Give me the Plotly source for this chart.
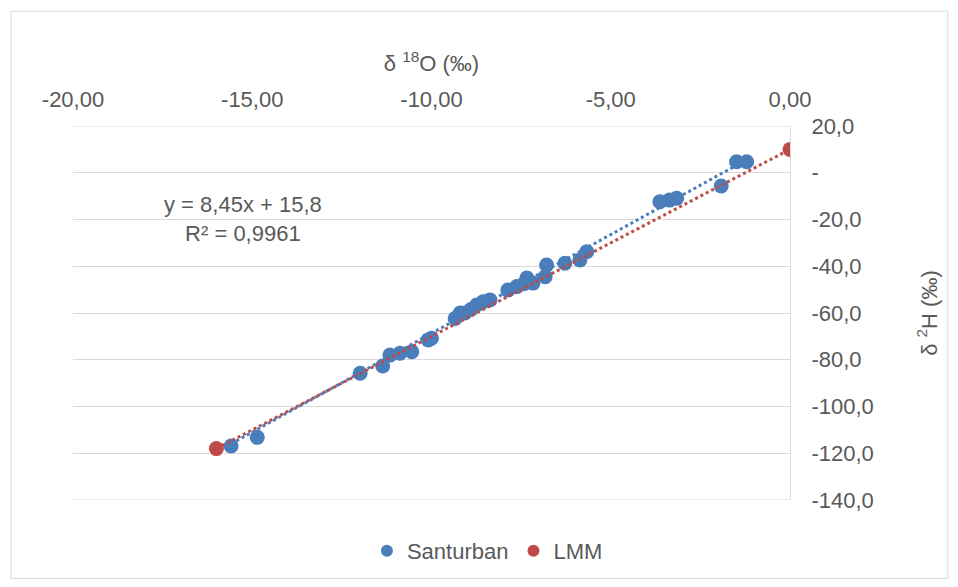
import plotly.graph_objects as go

# Santurban samples (δ18O, δ2H)
santurban_o18 = [-15.59, -14.86, -11.99, -11.36, -11.16, -10.88, -10.55, -10.09, -10.00,
                 -9.34, -9.20, -9.07, -8.90, -8.74, -8.56, -8.37,
                 -7.87, -7.62, -7.34, -7.42, -7.17, -6.79, -6.83,
                 -6.28, -5.86, -5.67, -3.63, -3.36, -3.16, -1.92, -1.49, -1.21]
santurban_h2 = [-116.9, -113.2, -85.8, -82.7, -78.0, -77.2, -76.6, -71.5, -70.8,
                -62.3, -60.0, -60.0, -58.5, -56.6, -55.2, -54.4,
                -50.2, -48.7, -45.0, -47.5, -47.2, -39.5, -44.5,
                -38.7, -37.3, -33.8, -12.4, -11.7, -10.9, -5.7, 4.7, 4.7]

# Local meteoric line points
lmm_o18 = [-16.0, 0.0]
lmm_h2 = [-118.0, 10.0]

# Trendline of Santurban (from chart equation)
slope = 8.45
intercept = 15.8
equation_text = "y = 8,45x + 15,8<br>R² = 0,9961"

x_tickvals = [-20, -15, -10, -5, 0]
x_ticktext = ["-20,00", "-15,00", "-10,00", "-5,00", "0,00"]
y_tickvals = [20, 0, -20, -40, -60, -80, -100, -120, -140]
y_ticktext = ["20,0", "-", "-20,0", "-40,0", "-60,0", "-80,0", "-100,0", "-120,0", "-140,0"]

BLUE = "#4A7EBB"
RED = "#BE4B48"
TXT = "#595959"
GRID = "#D9D9D9"
FS = 22

fig = go.Figure()
fig.add_trace(go.Scatter(x=santurban_o18, y=santurban_h2, mode="markers", name="Santurban",
                         marker=dict(color=BLUE, size=15)))
fig.add_trace(go.Scatter(x=lmm_o18, y=lmm_h2, mode="markers", name="LMM",
                         marker=dict(color=RED, size=15)))

tx = [min(santurban_o18), max(santurban_o18)]
ty = [slope * v + intercept for v in tx]
fig.add_trace(go.Scatter(x=tx, y=ty, mode="lines", showlegend=False, hoverinfo="skip",
                         line=dict(color=BLUE, width=3, dash="dot")))
fig.add_trace(go.Scatter(x=lmm_o18, y=lmm_h2, mode="lines", showlegend=False, hoverinfo="skip",
                         line=dict(color=RED, width=3, dash="dot")))

fig.update_layout(
    width=950, height=579,
    margin=dict(l=65, r=168, t=118, b=87),
    paper_bgcolor="white", plot_bgcolor="white",
    font=dict(family="Liberation Sans, Arial, sans-serif", size=FS, color=TXT),
    legend=dict(orientation="h", x=0.578, xanchor="center", y=-0.136, yanchor="middle",
                font=dict(size=FS, color=TXT), itemsizing="constant", itemwidth=30),
    showlegend=True,
)
fig.update_xaxes(side="top", range=[-20, 0], tickvals=x_tickvals, ticktext=x_ticktext,
                 showgrid=False, zeroline=False, showline=False, ticks="",
                 tickfont=dict(size=FS, color=TXT), ticklabelstandoff=14,
                 title=dict(text="δ <sup>18</sup>O (‰)", font=dict(size=FS, color=TXT), standoff=8))
fig.update_yaxes(side="right", range=[-140, 20], tickvals=y_tickvals, ticktext=y_ticktext,
                 showgrid=True, gridcolor=GRID, gridwidth=1, zeroline=False,
                 showline=True, linecolor=GRID, linewidth=1, ticks="",
                 tickfont=dict(size=FS, color=TXT),
                 ticklabelstandoff=16,
                 title=dict(text="δ <sup>2</sup>H (‰)", font=dict(size=FS, color=TXT), standoff=48))

# gridlines at the two range ends (plotly clips these)
for yv in (y_tickvals[0], y_tickvals[-1]):
    fig.add_shape(type="line", xref="paper", yref="y", x0=0, x1=1, y0=yv, y1=yv,
                  line=dict(color=GRID, width=1), layer="below")

fig.add_annotation(xref="paper", yref="paper", x=0.237, y=0.751, xanchor="center", yanchor="middle",
                   text=equation_text, showarrow=False, font=dict(size=FS, color=TXT), align="center")

fig.add_shape(type="rect", xref="paper", yref="paper", x0=-0.0865, x1=1.22, y0=-0.21, y1=1.307,
              line=dict(color="#D9D9D9", width=1), layer="below")

fig.write_html("out.html")
